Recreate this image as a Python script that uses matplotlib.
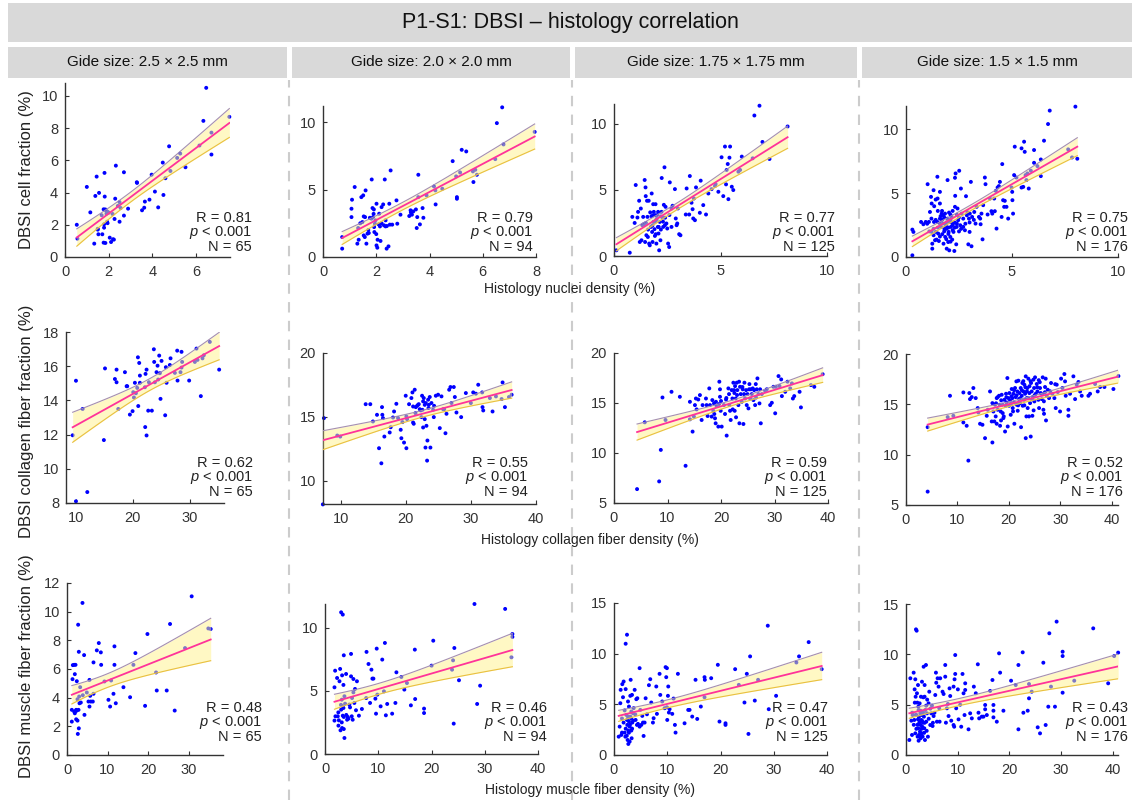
import numpy as np
import matplotlib
matplotlib.use('Agg')
import matplotlib.pyplot as plt

plt.rcParams['font.family'] = ['Liberation Sans', 'DejaVu Sans']
plt.rcParams['mathtext.fontset'] = 'custom'
plt.rcParams['mathtext.it'] = 'Liberation Sans:italic'
plt.rcParams['mathtext.rm'] = 'Liberation Sans'

# ---- data (x = histology %, y = DBSI %) ----
grid_titles = ['Gide size: 2.5 \u00d7 2.5 mm', 'Gide size: 2.0 \u00d7 2.0 mm',
               'Gide size: 1.75 \u00d7 1.75 mm', 'Gide size: 1.5 \u00d7 1.5 mm']
row_xlabels = ['Histology nuclei density (%)', 'Histology collagen fiber density (%)',
               'Histology muscle fiber density (%)']
row_ylabels = ['DBSI cell fraction (%)', 'DBSI collagen fiber fraction (%)',
               'DBSI muscle fiber fraction (%)']
r_values = [['0.81', '0.79', '0.77', '0.75'],
            ['0.62', '0.55', '0.59', '0.52'],
            ['0.48', '0.46', '0.47', '0.43']]
n_values = [65, 94, 125, 176]

cell_25 = [(0.54, 2.0), (0.57, 1.14), (1.0, 4.35), (1.16, 2.77), (1.39, 3.79), (1.45, 4.99), (1.34, 0.83),
           (1.5, 1.7), (1.53, 1.41), (1.56, 3.98), (1.68, 2.59), (1.71, 1.41), (1.81, 5.22), (1.82, 3.75),
           (1.77, 2.96), (1.79, 2.03), (1.79, 1.82), (1.77, 0.89), (1.85, 0.87), (1.9, 2.84), (1.9, 2.69),
           (1.93, 2.19), (1.96, 2.8), (2.05, 1.2), (2.11, 0.93), (2.18, 2.67), (2.24, 1.08), (2.27, 2.36),
           (2.3, 3.62), (2.33, 5.67), (2.42, 3.17), (2.5, 3.4), (2.5, 2.19), (2.55, 3.04), (2.7, 5.26),
           (2.7, 2.57), (2.89, 3.0), (3.29, 4.64), (3.53, 2.9), (3.63, 3.06), (3.66, 3.44), (3.87, 3.56),
           (3.97, 5.11), (4.12, 4.06), (4.27, 3.08), (4.48, 5.86), (4.51, 3.85), (4.6, 4.89), (4.77, 6.87),
           (4.83, 5.34), (5.14, 6.15), (5.28, 6.42), (5.52, 5.57), (6.16, 6.92), (6.34, 8.45), (6.47, 10.5),
           (6.71, 7.72), (6.71, 6.36), (7.53, 8.7), (1.85, 2.95), (2.0, 2.75), (1.95, 2.1), (2.2, 1.1),
           (1.5, 1.75), (3.3, 4.6)]
cell_20 = [(0.72, 1.48), (0.72, 0.62), (1.07, 3.58), (1.09, 4.25), (1.07, 2.96), (1.19, 5.19), (1.32, 2.15),
           (1.29, 0.99), (1.34, 1.28), (1.44, 4.44), (1.48, 2.59), (1.51, 4.57), (1.53, 3.01), (1.53, 1.6),
           (1.57, 1.48), (1.6, 4.94), (1.58, 2.96), (1.63, 0.99), (1.67, 1.73), (1.72, 1.78), (1.76, 2.91),
           (1.83, 5.75), (1.82, 2.84), (1.86, 3.63), (1.88, 2.96), (1.91, 3.53), (1.92, 2.22), (1.93, 1.85),
           (1.95, 2.47), (1.97, 2.72), (2.01, 3.95), (2.01, 0.86), (2.04, 0.69), (2.05, 1.28), (2.09, 2.42),
           (2.11, 3.21), (2.14, 2.27), (2.16, 1.19), (2.2, 3.7), (2.26, 3.9), (2.29, 2.35), (2.32, 5.75),
           (2.35, 2.72), (2.35, 2.27), (2.39, 0.62), (2.46, 0.79), (2.49, 3.95), (2.51, 2.4), (2.54, 6.42),
           (2.76, 4.2), (2.79, 2.47), (2.91, 3.14), (3.24, 3.04), (3.29, 3.46), (3.34, 3.14), (3.39, 3.38),
           (3.49, 3.53), (3.52, 2.15), (3.54, 2.96), (3.58, 6.1), (3.58, 4.44), (3.64, 2.42), (3.74, 3.63),
           (3.77, 2.91), (3.89, 4.57), (4.17, 5.23), (4.22, 4.94), (4.23, 3.9), (4.48, 5.06), (4.87, 7.11),
           (5.0, 5.98), (5.03, 4.44), (5.03, 4.32), (5.15, 6.27), (5.21, 7.95), (5.38, 7.83), (5.63, 6.35),
           (5.65, 5.56), (5.72, 6.47), (5.78, 6.1), (6.47, 7.26), (6.53, 9.93), (6.73, 11.1), (6.78, 8.35),
           (7.95, 9.28), (1.7, 2.0), (2.2, 2.5), (1.9, 3.2), (2.4, 2.3), (3.3, 3.3), (1.4, 2.5), (2.6, 2.4),
           (2.0, 1.7)]
cell_175 = [(0.11, 0.43), (0.74, 0.25), (0.86, 2.96), (0.97, 2.5), (1.02, 5.37), (1.1, 2.91), (1.13, 3.34),
            (1.18, 4.18), (1.21, 1.06), (1.26, 3.59), (1.29, 1.19), (1.33, 2.33), (1.37, 2.96), (1.4, 2.41),
            (1.44, 5.75), (1.48, 5.19), (1.46, 1.06), (1.49, 4.53), (1.52, 1.57), (1.55, 4.18), (1.57, 2.96),
            (1.59, 1.44), (1.63, 4.18), (1.65, 0.94), (1.68, 0.81), (1.73, 2.2), (1.76, 3.01), (1.77, 4.73),
            (1.79, 1.82), (1.81, 1.06), (1.84, 3.09), (1.84, 3.92), (1.85, 2.58), (1.87, 3.34), (1.9, 2.03),
            (1.92, 1.52), (1.93, 3.09), (1.95, 3.92), (1.96, 1.65), (1.96, 2.66), (1.99, 0.94), (2.03, 3.09),
            (2.06, 2.2), (2.07, 3.34), (2.09, 1.7), (2.12, 0.43), (2.15, 2.58), (2.18, 1.19), (2.2, 2.0),
            (2.23, 3.34), (2.24, 5.9), (2.28, 2.91), (2.31, 2.2), (2.34, 3.87), (2.37, 6.71), (2.39, 2.33),
            (2.42, 3.72), (2.46, 2.46), (2.5, 2.08), (2.54, 0.94), (2.59, 0.68), (2.62, 5.57), (2.7, 3.59),
            (2.75, 3.8), (2.86, 5.06), (2.9, 2.84), (2.94, 2.33), (2.97, 2.46), (3.06, 1.65), (3.12, 1.57),
            (3.37, 3.14), (3.41, 5.11), (3.53, 3.14), (3.56, 6.05), (3.64, 4.03), (3.69, 3.54), (3.72, 2.84),
            (3.75, 4.35), (3.8, 2.71), (3.85, 5.19), (4.03, 3.27), (4.07, 5.7), (4.19, 3.85), (4.32, 3.14),
            (4.43, 4.73), (4.58, 5.06), (4.74, 5.29), (4.77, 5.44), (4.9, 4.86), (5.05, 7.47), (5.13, 4.53),
            (5.21, 8.28), (5.26, 5.42), (5.29, 6.51), (5.34, 6.96), (5.37, 4.3), (5.42, 7.44), (5.45, 8.28),
            (5.53, 5.24), (5.6, 4.99), (5.84, 6.38), (5.92, 6.51), (6.0, 7.52), (6.51, 7.39), (6.59, 10.63),
            (6.83, 11.37), (6.97, 8.63), (7.3, 7.34), (8.15, 9.8), (1.5, 2.5), (2.0, 2.8), (2.2, 3.0),
            (1.8, 2.3), (2.4, 2.9), (1.7, 3.3), (2.1, 2.2), (2.6, 3.1), (1.9, 2.6), (2.3, 2.6), (1.6, 2.0),
            (2.7, 2.2), (3.0, 3.6)]
cell_15 = [(0.3, 2.14), (0.35, 1.96), (0.3, 0.13), (0.71, 2.74), (0.82, 2.56), (0.93, 2.74), (1.02, 5.69),
           (1.08, 2.74), (1.13, 3.52), (1.18, 4.7), (1.21, 4.18), (1.21, 1.96), (1.24, 1.04), (1.24, 0.65),
           (1.3, 5.22), (1.32, 2.74), (1.33, 3.97), (1.37, 1.31), (1.4, 4.49), (1.41, 1.96), (1.44, 1.36),
           (1.48, 6.27), (1.48, 2.74), (1.49, 4.57), (1.52, 1.83), (1.55, 1.25), (1.6, 4.18), (1.6, 5.09),
           (1.63, 3.19), (1.65, 2.35), (1.68, 3.39), (1.71, 1.78), (1.73, 2.61), (1.76, 3.26), (1.77, 1.04),
           (1.81, 2.22), (1.84, 3.39), (1.85, 1.57), (1.88, 2.48), (1.92, 0.65), (1.96, 6.01), (1.96, 3.0),
           (1.99, 1.17), (2.01, 1.96), (2.03, 3.47), (2.04, 0.52), (2.07, 2.74), (2.09, 1.57), (2.12, 2.35),
           (2.15, 3.13), (2.18, 1.36), (2.2, 2.61), (2.24, 1.96), (2.28, 0.47), (2.31, 6.19), (2.31, 3.92),
           (2.32, 4.78), (2.34, 6.53), (2.37, 0.99), (2.39, 2.35), (2.43, 3.79), (2.46, 2.87), (2.51, 6.74),
           (2.56, 2.48), (2.59, 5.35), (2.62, 3.39), (2.7, 2.35), (2.78, 2.09), (2.83, 4.75), (2.87, 3.26),
           (2.94, 0.99), (2.97, 3.0), (3.0, 1.96), (3.01, 3.39), (3.06, 5.87), (3.09, 0.84), (3.12, 3.13),
           (3.22, 3.52), (3.28, 2.61), (3.33, 3.92), (3.44, 3.13), (3.52, 2.56), (3.56, 3.39), (3.61, 1.38),
           (3.64, 4.05), (3.72, 6.21), (3.75, 5.69), (3.85, 3.32), (3.96, 4.57), (4.03, 3.58), (4.07, 3.39),
           (4.16, 4.57), (4.19, 3.58), (4.24, 5.17), (4.27, 2.22), (4.32, 5.43), (4.38, 5.54), (4.43, 5.87),
           (4.51, 3.13), (4.54, 7.26), (4.58, 4.44), (4.63, 3.92), (4.66, 4.39), (4.74, 3.92), (4.82, 3.0),
           (4.98, 5.43), (5.01, 5.09), (5.02, 4.44), (5.05, 3.39), (5.1, 6.4), (5.13, 8.62), (5.21, 6.21),
           (5.45, 8.49), (5.45, 5.43), (5.53, 5.48), (5.57, 9.01), (5.6, 8.22), (5.64, 6.4), (5.68, 6.01),
           (5.73, 6.53), (5.79, 5.35), (5.89, 6.74), (6.04, 8.36), (6.04, 7.36), (6.2, 7.1), (6.36, 6.32),
           (6.36, 7.62), (6.51, 9.09), (6.7, 10.39), (6.78, 11.44), (7.65, 8.41), (7.83, 7.78), (7.99, 11.75),
           (8.08, 7.68), (1.5, 2.3), (1.6, 2.6), (1.7, 2.9), (1.8, 2.0), (1.9, 2.7), (2.0, 2.3), (2.1, 2.9),
           (2.2, 2.1), (2.3, 2.7), (1.4, 2.9), (1.3, 2.2), (1.6, 1.6), (1.9, 1.4), (2.0, 1.8), (2.1, 3.3),
           (2.2, 3.6), (2.4, 2.6), (2.5, 3.1), (2.6, 2.2), (2.7, 3.0), (2.8, 2.6), (1.2, 3.0), (1.1, 2.0),
           (1.0, 2.6), (1.7, 3.6), (1.8, 3.1), (2.0, 2.9), (2.3, 2.3), (2.5, 2.0), (2.9, 3.5), (3.2, 2.9),
           (1.5, 3.6), (1.3, 1.7), (2.1, 1.2), (1.9, 2.2), (2.4, 3.3), (3.0, 2.7), (3.5, 3.0), (1.6, 3.0),
           (2.2, 2.5)]

coll_25 = [(9.42, 11.96), (10.0, 15.15), (10.0, 8.1), (11.17, 13.5), (11.99, 8.64), (14.9, 11.68), (15.1, 15.87),
           (16.84, 15.25), (17.13, 15.8), (17.13, 15.06), (17.43, 13.5), (18.6, 15.65), (18.9, 14.83),
           (19.0, 14.83), (19.47, 13.17), (19.94, 13.37), (20.06, 14.48), (20.18, 14.17), (20.35, 15.03),
           (20.53, 14.42), (20.76, 14.73), (20.88, 16.52), (20.94, 13.67), (21.11, 16.19), (21.23, 15.45),
           (21.23, 15.03), (22.11, 14.77), (22.16, 12.44), (22.22, 15.55), (22.4, 15.8), (22.4, 11.95),
           (22.69, 13.4), (22.81, 15.06), (23.33, 13.4), (23.68, 16.99), (23.74, 16.25), (23.86, 15.06),
           (24.15, 15.65), (24.33, 16.03), (24.44, 15.22), (24.62, 16.62), (24.74, 15.59), (24.85, 14.09),
           (25.03, 16.31), (25.67, 13.13), (25.79, 15.94), (25.91, 15.03), (26.49, 16.07), (26.61, 16.46),
           (27.37, 15.61), (27.78, 16.91), (27.84, 15.16), (28.36, 15.65), (28.54, 16.84), (28.65, 16.25),
           (28.54, 15.92), (29.88, 15.16), (30.88, 16.25), (31.17, 17.03), (31.35, 16.37), (31.93, 14.25),
           (32.22, 16.46), (32.46, 16.64), (33.51, 17.42), (35.15, 15.8)]
coll_20 = [(7.28, 8.17), (7.44, 14.91), (9.49, 13.55), (9.95, 13.47), (13.85, 16.0), (14.56, 16.0), (14.97, 14.65),
           (15.59, 15.17), (15.9, 12.56), (16.26, 11.38), (16.36, 15.77), (16.41, 15.17), (16.51, 14.91),
           (16.72, 13.47), (17.54, 13.79), (17.69, 14.2), (18.05, 14.96), (18.21, 15.43), (18.56, 16.03),
           (18.82, 14.91), (19.23, 14.0), (19.33, 13.34), (19.49, 14.6), (19.74, 13.0), (20.0, 16.66),
           (20.1, 15.04), (20.1, 12.56), (20.21, 14.83), (20.51, 16.0), (20.87, 16.48), (21.03, 16.92),
           (21.13, 15.82), (21.13, 14.57), (21.23, 14.47), (21.38, 17.13), (21.54, 15.77), (21.74, 15.87),
           (21.9, 15.95), (22.15, 15.61), (22.31, 15.51), (22.41, 14.99), (22.51, 16.66), (22.56, 15.56),
           (22.67, 14.18), (22.67, 16.22), (22.77, 16.48), (22.92, 15.95), (22.92, 14.83), (23.03, 12.61),
           (23.08, 16.09), (23.18, 14.31), (23.28, 11.59), (23.33, 13.16), (23.44, 16.35), (23.54, 15.95),
           (23.69, 16.56), (23.79, 12.61), (23.95, 16.09), (24.21, 15.56), (24.31, 14.99), (24.36, 15.87),
           (24.62, 16.66), (24.97, 16.74), (25.23, 14.13), (25.49, 16.61), (25.74, 15.61), (25.9, 15.61),
           (26.1, 13.73), (26.26, 15.25), (26.67, 17.13), (26.87, 17.34), (27.03, 16.09), (27.38, 17.34),
           (27.54, 16.56), (27.79, 15.35), (28.51, 14.99), (29.23, 16.87), (30.0, 16.09), (30.36, 16.92),
           (30.77, 16.82), (31.13, 17.52), (31.74, 16.92), (31.79, 15.77), (31.9, 15.51), (32.92, 16.48),
           (33.33, 15.43), (33.85, 16.61), (34.72, 16.4), (34.87, 17.7), (35.23, 15.77), (35.85, 16.56),
           (36.26, 16.74), (22.0, 16.0), (23.5, 15.7), (21.5, 15.3)]
coll_175 = [(4.31, 6.39), (5.75, 13.07), (8.44, 7.16), (8.75, 10.31), (9.06, 15.55), (9.63, 13.3), (10.75, 16.12),
            (12.31, 15.62), (13.38, 8.72), (14.19, 15.12), (14.19, 13.37), (14.69, 12.14), (14.94, 13.64),
            (15.13, 14.79), (15.31, 15.45), (15.44, 14.36), (15.75, 15.35), (16.06, 15.79), (16.38, 13.3),
            (16.56, 14.79), (17.19, 15.45), (17.31, 14.79), (17.5, 13.7), (17.81, 16.46), (17.94, 14.79),
            (18.25, 13.64), (18.38, 15.29), (18.56, 14.22), (18.69, 14.96), (18.75, 13.9), (18.88, 13.47),
            (19.0, 12.97), (19.06, 15.12), (19.19, 14.69), (19.5, 12.64), (19.63, 14.89), (19.69, 17.13),
            (19.81, 16.37), (19.81, 15.62), (19.94, 14.22), (20.13, 12.64), (20.56, 14.79), (20.75, 13.9),
            (20.94, 15.35), (21.06, 11.74), (21.38, 16.46), (21.5, 15.89), (21.56, 14.79), (21.69, 14.22),
            (21.81, 13.3), (22.0, 16.29), (22.13, 15.45), (22.19, 14.36), (22.31, 17.03), (22.44, 16.29),
            (22.56, 14.22), (22.63, 16.69), (22.75, 15.45), (22.81, 13.57), (22.94, 17.03), (23.06, 16.29),
            (23.25, 14.79), (23.38, 17.13), (23.44, 12.97), (23.56, 16.62), (23.69, 15.89), (23.88, 15.12),
            (24.06, 16.37), (24.19, 12.9), (24.31, 15.89), (24.38, 17.03), (24.5, 15.45), (24.69, 16.29),
            (24.81, 14.79), (24.94, 15.89), (25.13, 14.46), (25.25, 16.37), (25.31, 16.89), (25.44, 15.45),
            (25.56, 16.37), (25.75, 15.89), (25.94, 16.46), (26.06, 15.29), (26.19, 16.29), (26.38, 14.79),
            (26.5, 16.89), (26.56, 15.55), (26.69, 16.37), (26.81, 17.46), (27.0, 15.89), (27.19, 14.96),
            (27.31, 16.37), (27.44, 12.97), (27.63, 15.89), (28.25, 16.22), (28.56, 16.37), (29.19, 14.79),
            (29.5, 15.02), (29.81, 16.62), (30.13, 13.97), (30.25, 16.62), (30.75, 17.69), (30.94, 16.69),
            (31.25, 17.36), (31.38, 15.69), (32.0, 16.12), (32.44, 17.13), (32.94, 16.46), (33.25, 16.96),
            (33.44, 15.45), (33.69, 15.69), (34.69, 16.12), (34.94, 14.56), (36.81, 16.79), (37.44, 16.62),
            (39.0, 17.88), (21.0, 15.5), (23.0, 15.8), (24.0, 16.6), (20.0, 15.2), (22.5, 16.0)]
coll_15 = [(4.21, 6.33), (4.21, 12.73), (8.1, 13.73), (8.55, 15.85), (9.2, 13.86), (11.15, 16.18), (11.15, 13.2),
           (11.79, 12.87), (12.12, 9.41), (12.31, 16.12), (12.44, 15.52), (12.77, 15.72), (13.09, 16.62),
           (13.55, 15.62), (13.94, 14.63), (14.07, 14.19), (14.39, 13.07), (14.86, 12.97), (15.36, 11.64),
           (15.69, 13.86), (15.88, 14.46), (16.33, 16.28), (16.66, 13.3), (16.79, 15.12), (16.79, 11.21),
           (16.98, 14.29), (17.17, 13.3), (17.3, 14.96), (17.43, 13.8), (17.63, 13.07), (17.63, 15.62),
           (17.82, 15.72), (17.82, 14.46), (18.08, 15.85), (18.21, 14.96), (18.28, 12.87), (18.41, 14.29),
           (18.47, 13.4), (18.6, 15.95), (18.73, 14.96), (18.79, 14.13), (18.92, 13.63), (19.12, 15.45),
           (19.25, 12.3), (19.38, 14.86), (19.44, 16.05), (19.57, 15.19), (19.7, 17.61), (19.77, 12.8),
           (19.9, 15.62), (20.03, 14.86), (20.09, 16.12), (20.22, 15.39), (20.35, 13.96), (20.41, 15.06),
           (20.54, 16.52), (20.67, 15.62), (20.74, 14.63), (20.87, 16.05), (21.0, 15.19), (21.06, 13.07),
           (21.19, 16.62), (21.32, 15.72), (21.45, 17.28), (21.52, 14.96), (21.65, 16.28), (21.71, 14.36),
           (21.84, 17.35), (21.97, 15.52), (22.04, 16.12), (22.16, 15.12), (22.29, 16.62), (22.36, 12.73),
           (22.49, 15.85), (22.62, 17.12), (22.68, 14.86), (22.81, 16.28), (22.94, 15.45), (23.01, 16.95),
           (23.14, 16.05), (23.27, 11.64), (23.27, 17.78), (23.4, 13.8), (23.46, 15.62), (23.59, 16.62),
           (23.65, 14.63), (23.78, 17.55), (23.91, 13.8), (23.97, 16.12), (24.11, 15.12), (24.24, 11.8),
           (24.3, 17.12), (24.43, 16.28), (24.56, 13.86), (24.63, 15.72), (24.76, 17.45), (24.89, 16.62),
           (24.95, 15.29), (25.08, 17.68), (25.21, 16.05), (25.41, 17.02), (25.54, 16.28), (25.73, 15.45),
           (25.86, 14.63), (26.05, 16.62), (26.18, 16.12), (26.38, 15.52), (26.57, 17.68), (26.7, 14.46),
           (26.82, 14.06), (27.02, 16.72), (27.15, 17.55), (27.21, 13.4), (27.35, 15.85), (27.54, 16.45),
           (27.8, 15.62), (28.19, 17.12), (28.45, 16.05), (28.84, 15.62), (29.1, 14.63), (29.29, 16.95),
           (29.49, 16.22), (29.94, 14.29), (30.14, 17.55), (30.4, 16.62), (30.78, 18.01), (30.91, 17.28),
           (31.04, 15.85), (31.56, 14.46), (31.56, 13.86), (31.88, 16.05), (32.53, 17.78), (32.86, 15.52),
           (33.18, 16.95), (33.51, 17.22), (33.83, 16.28), (34.15, 15.85), (35.45, 15.85), (35.77, 16.05),
           (36.75, 17.02), (37.26, 16.28), (37.72, 16.72), (38.56, 16.72), (40.31, 16.52), (41.28, 17.81),
           (20.5, 15.8), (21.5, 15.9), (22.5, 16.4), (23.5, 16.3), (24.5, 15.5), (25.5, 16.7), (26.5, 16.0),
           (22.0, 15.2), (23.0, 14.9), (24.0, 16.8), (21.0, 16.4), (25.0, 15.9), (26.0, 17.2), (27.0, 16.2),
           (19.5, 15.7), (18.5, 15.4), (22.8, 17.3), (24.8, 14.4), (23.8, 15.6), (21.8, 14.9), (20.8, 14.3),
           (25.8, 17.4), (28.0, 16.3), (29.0, 17.0), (17.5, 15.1), (19.0, 13.8), (22.2, 15.6), (23.2, 16.7),
           (24.2, 17.3), (26.8, 15.3)]

musc_25 = [(1.19, 2.33), (1.19, 3.15), (1.36, 5.29), (1.44, 6.27), (1.77, 3.03), (1.77, 6.29), (1.93, 2.91),
           (1.93, 5.64), (2.01, 3.03), (2.1, 6.29), (2.26, 3.15), (2.26, 2.49), (2.42, 5.15), (2.42, 3.1),
           (2.59, 3.89), (2.59, 2.4), (2.67, 1.47), (2.75, 9.09), (2.84, 3.15), (2.92, 7.2), (2.92, 1.86),
           (3.0, 4.08), (3.08, 3.61), (3.25, 4.73), (3.41, 3.66), (3.82, 10.61), (3.9, 4.17), (4.22, 6.97),
           (4.31, 2.8), (4.89, 4.36), (5.3, 3.73), (5.55, 5.24), (5.55, 3.38), (5.72, 4.13), (5.88, 3.73),
           (6.37, 3.73), (6.54, 6.46), (6.54, 4.27), (7.36, 7.3), (7.85, 7.81), (8.35, 7.16), (8.43, 6.29),
           (9.25, 5.13), (10.23, 3.85), (10.64, 3.38), (10.89, 5.2), (11.47, 4.27), (11.71, 6.29), (11.71, 7.58),
           (12.04, 3.61), (13.93, 4.73), (15.57, 4.03), (16.39, 6.29), (16.88, 7.11), (19.27, 3.43),
           (19.85, 8.44), (21.98, 5.76), (22.15, 4.5), (24.61, 4.5), (25.43, 9.14), (26.58, 3.1), (29.13, 7.46),
           (30.77, 11.07), (34.88, 8.83), (35.46, 8.79)]
musc_20 = [(1.78, 2.65), (1.78, 5.29), (1.9, 6.61), (1.96, 2.99), (2.27, 6.03), (2.4, 2.99), (2.52, 2.25),
           (2.6, 2.67), (2.72, 5.77), (2.84, 6.75), (2.91, 1.88), (3.03, 11.24), (3.03, 3.52), (3.15, 4.31),
           (3.15, 2.51), (3.21, 2.06), (3.21, 6.24), (3.34, 11.06), (3.34, 3.04), (3.34, 3.78), (3.46, 5.48),
           (3.46, 3.65), (3.53, 1.98), (3.53, 7.83), (3.53, 2.94), (3.65, 4.58), (3.65, 1.27), (3.77, 3.99),
           (3.96, 6.35), (4.15, 2.72), (4.27, 2.94), (4.4, 2.8), (4.58, 3.92), (4.7, 3.7), (4.89, 7.94),
           (4.89, 6.16), (5.02, 2.99), (5.08, 4.44), (5.2, 2.72), (5.33, 5.95), (5.33, 4.89), (5.51, 4.05),
           (5.64, 5.16), (5.82, 3.47), (6.0, 5.77), (6.37, 3.04), (6.93, 3.57), (7.74, 4.44), (7.8, 8.1),
           (8.17, 7.14), (8.46, 4.05), (8.72, 6.69), (8.9, 5.98), (9.09, 5.98), (9.46, 4.39), (9.58, 3.2),
           (9.71, 8.36), (9.83, 4.71), (10.45, 3.78), (10.75, 7.49), (11.07, 4.97), (11.25, 8.81), (11.43, 3.07),
           (11.68, 3.97), (12.61, 3.2), (13.22, 4.05), (13.41, 6.48), (14.34, 6.11), (14.9, 5.11), (15.39, 5.63),
           (16.13, 3.86), (16.87, 8.28), (16.93, 4.36), (18.6, 3.6), (18.6, 3.25), (20.02, 7.01), (20.33, 8.99),
           (23.86, 6.69), (24.05, 7.43), (24.17, 2.41), (24.29, 8.41), (25.16, 5.85), (28.07, 11.9),
           (28.57, 3.97), (29.13, 5.42), (33.83, 11.51), (35.0, 7.67), (35.19, 9.52), (35.19, 9.29), (2.5, 3.3),
           (3.0, 3.9), (4.0, 3.1)]
musc_175 = [(0.88, 1.81), (1.06, 2.8), (1.19, 5.11), (1.25, 6.43), (1.38, 1.98), (1.5, 2.21), (1.56, 6.99),
            (1.69, 5.7), (1.81, 7.25), (2.0, 2.21), (2.13, 1.81), (2.19, 10.98), (2.19, 6.5), (2.31, 3.96),
            (2.44, 3.46), (2.44, 11.87), (2.5, 2.97), (2.56, 1.48), (2.63, 5.28), (2.69, 2.41), (2.69, 1.09),
            (2.81, 3.3), (2.81, 4.78), (2.94, 2.8), (2.94, 1.32), (3.06, 3.79), (3.06, 5.84), (3.13, 7.42),
            (3.25, 2.41), (3.25, 4.29), (3.31, 1.65), (3.38, 5.93), (3.44, 3.2), (3.56, 4.12), (3.69, 4.62),
            (3.88, 6.43), (4.06, 3.46), (4.19, 5.51), (4.31, 2.97), (4.38, 5.6), (4.5, 3.07), (4.81, 8.57),
            (4.81, 2.8), (4.94, 4.45), (5.13, 2.97), (5.31, 3.86), (5.44, 3.2), (5.56, 1.88), (5.75, 3.2),
            (5.94, 5.6), (6.19, 4.02), (6.56, 6.89), (6.81, 7.48), (7.0, 5.18), (7.31, 3.2), (7.44, 3.63),
            (7.94, 6.76), (8.06, 4.06), (8.56, 8.01), (8.69, 5.93), (9.06, 5.28), (9.5, 4.62), (9.69, 8.67),
            (9.81, 7.68), (9.94, 8.57), (9.94, 4.71), (10.0, 3.46), (10.13, 5.84), (10.19, 6.76), (10.31, 4.19),
            (10.44, 4.52), (10.94, 4.06), (11.19, 5.57), (11.44, 2.97), (11.56, 2.21), (12.0, 8.01),
            (13.25, 3.13), (13.94, 4.45), (14.19, 4.45), (14.69, 3.79), (15.31, 7.42), (15.63, 3.56),
            (16.31, 4.78), (17.0, 5.7), (17.0, 7.68), (17.06, 7.42), (18.25, 7.58), (19.5, 8.9), (19.81, 3.3),
            (20.94, 3.13), (20.94, 2.97), (22.75, 8.47), (23.44, 6.92), (24.5, 5.18), (24.94, 8.01),
            (25.25, 2.08), (25.56, 9.73), (26.44, 5.37), (27.06, 7.42), (28.88, 12.76), (29.06, 4.52),
            (30.44, 5.84), (34.25, 9.13), (34.75, 9.73), (36.56, 11.14), (39.0, 8.47), (1.8, 3.2), (2.2, 2.6),
            (2.6, 3.8), (3.0, 3.0), (3.4, 2.6), (2.0, 4.4), (2.8, 2.2), (3.6, 3.4), (1.5, 3.6), (2.4, 1.9),
            (4.0, 4.0), (3.2, 3.6)]
musc_15 = [(0.64, 1.49), (0.84, 7.62), (1.03, 3.41), (1.16, 1.99), (1.29, 3.97), (1.48, 8.18), (1.61, 3.48),
           (1.67, 6.52), (1.8, 2.15), (1.8, 7.52), (1.86, 5.79), (1.93, 12.48), (1.99, 3.97), (2.06, 12.35),
           (2.12, 6.13), (2.19, 5.2), (2.25, 1.82), (2.32, 3.54), (2.32, 6.95), (2.38, 2.65), (2.44, 1.42),
           (2.44, 4.47), (2.51, 1.99), (2.57, 3.21), (2.64, 5.13), (2.7, 2.32), (2.77, 4.14), (2.83, 1.66),
           (2.83, 2.98), (2.89, 5.79), (2.96, 3.48), (3.02, 2.15), (3.09, 3.97), (3.09, 7.28), (3.15, 2.81),
           (3.22, 1.82), (3.28, 3.21), (3.34, 5.73), (3.41, 8.77), (3.47, 3.81), (3.54, 2.65), (3.6, 6.95),
           (3.6, 5.79), (3.67, 1.49), (3.73, 4.47), (3.86, 8.94), (3.92, 3.31), (4.05, 4.14), (4.24, 1.82),
           (4.37, 5.13), (4.5, 6.29), (4.69, 2.98), (4.89, 4.14), (5.02, 4.9), (5.14, 2.88), (5.34, 3.87),
           (5.66, 5.96), (5.79, 8.18), (5.85, 7.18), (5.98, 3.31), (6.11, 7.62), (6.3, 6.79), (6.43, 4.64),
           (6.5, 3.31), (6.62, 7.62), (7.07, 6.29), (7.27, 6.06), (7.59, 8.94), (7.59, 7.78), (7.72, 3.21),
           (7.91, 4.64), (8.1, 5.07), (8.23, 3.87), (8.42, 6.62), (8.55, 5.86), (8.75, 3.41), (9.2, 6.79),
           (9.2, 2.98), (9.32, 2.81), (9.39, 7.52), (9.52, 9.93), (9.52, 8.05), (9.71, 4.64), (10.03, 6.52),
           (10.16, 3.54), (10.48, 5.0), (10.68, 2.81), (10.93, 8.05), (11.13, 6.13), (11.32, 3.97),
           (11.45, 7.12), (11.45, 6.46), (12.09, 2.55), (12.41, 4.14), (12.73, 3.64), (13.12, 6.79),
           (13.5, 6.13), (13.89, 9.01), (14.02, 4.2), (14.15, 3.64), (14.66, 3.81), (14.98, 3.81), (15.31, 4.97),
           (15.31, 4.54), (15.63, 3.97), (16.27, 6.36), (16.72, 7.45), (16.91, 4.97), (16.91, 4.4), (16.91, 3.74),
           (17.56, 3.31), (18.0, 10.1), (18.2, 8.18), (18.84, 4.4), (20.32, 7.38), (21.22, 6.95), (21.74, 8.94),
           (21.74, 2.55), (22.57, 10.2), (22.7, 4.2), (23.54, 4.4), (23.79, 7.05), (23.79, 5.63), (24.31, 6.29),
           (25.47, 2.75), (25.92, 2.15), (26.56, 9.17), (27.01, 2.98), (27.52, 4.8), (27.72, 12.09),
           (28.04, 6.79), (28.81, 4.8), (29.13, 13.25), (30.29, 10.26), (30.29, 9.83), (30.29, 6.19),
           (32.54, 7.38), (36.21, 12.58), (39.1, 7.12), (40.26, 9.83), (41.03, 10.17), (1.5, 3.0), (1.9, 4.0),
           (2.2, 3.0), (2.5, 3.8), (2.8, 4.4), (3.0, 2.6), (3.3, 4.2), (3.6, 3.2), (4.0, 2.4), (4.4, 3.6),
           (2.0, 2.6), (2.7, 3.4), (3.1, 3.4), (3.9, 4.9), (4.7, 4.6), (5.2, 3.2), (1.2, 4.2), (2.4, 4.8),
           (3.5, 2.2), (2.9, 1.9), (4.1, 5.5), (5.5, 4.2), (1.7, 5.2)]

panel_data = [[cell_25, cell_20, cell_175, cell_15],
              [coll_25, coll_20, coll_175, coll_15],
              [musc_25, musc_20, musc_175, musc_15]]

# axis limits and ticks per panel
xlims = [[(0, 7.56), (0, 8), (0, 10), (0, 10)],
         [(8.25, 36), (7.3, 40), (0, 40), (0, 41.2)],
         [(0, 38.5), (0, 40), (0, 40), (0, 41)]]
ylims = [[(0, 10.8), (0, 11.2), (0, 11.5), (0, 11.8)],
         [(8, 18), (8.2, 20), (5, 20), (5, 20)],
         [(0, 12), (0, 11.9), (0, 15), (0, 15)]]
xticks = [[[0, 2, 4, 6], [0, 2, 4, 6, 8], [0, 5, 10], [0, 5, 10]],
          [[10, 20, 30], [10, 20, 30, 40], [0, 10, 20, 30, 40], [0, 10, 20, 30, 40]],
          [[0, 10, 20, 30], [0, 10, 20, 30, 40], [0, 10, 20, 30, 40], [0, 10, 20, 30, 40]]]
yticks = [[[0, 2, 4, 6, 8, 10], [0, 5, 10], [0, 5, 10], [0, 5, 10]],
          [[8, 10, 12, 14, 16, 18], [10, 15, 20], [5, 10, 15, 20], [5, 10, 15, 20]],
          [[0, 2, 4, 6, 8, 10, 12], [0, 5, 10], [0, 5, 10, 15], [0, 5, 10, 15]]]

# pixel boxes (left, right, top, bottom) on a 1136 x 800 canvas
W, H = 1136, 800
boxes = [[(65, 230, 83, 257), (323, 536, 106, 257), (614, 827, 104, 256), (906, 1118, 106, 257)],
         [(66, 224, 332, 503), (323, 536, 353, 504), (614, 828, 353, 503), (906, 1118, 354, 505)],
         [(67, 223, 583, 755), (325, 538, 604, 754), (614, 827, 603, 755), (906, 1118, 604, 755)]]
stat_right = [[252, 533, 835, 1128], [253, 528, 827, 1123], [262, 547, 828, 1128]]
stat_top = [218, 463, 708]

axis_col = '#333333'

fig = plt.figure(figsize=(W / 100, H / 100), dpi=100)


def px(x, y):
    return x / W, 1 - y / H


def add_box(x0, x1, y0, y1, text, size):
    fig.patches.append(plt.Rectangle(px(x0, y1), (x1 - x0) / W, (y1 - y0) / H,
                                     transform=fig.transFigure, facecolor='#d9d9d9',
                                     edgecolor='none', zorder=0))
    fig.text(*px((x0 + x1) / 2, (y0 + y1) / 2), text, ha='center', va='center',
             fontsize=size, color='#111111')


add_box(8, 1132, 3, 42, 'P1-S1: DBSI \u2013 histology correlation', 15.5)
head_x = [(8, 287), (292, 570), (575, 857), (862, 1132)]
for (hx0, hx1), t in zip(head_x, grid_titles):
    add_box(hx0, hx1, 47, 78, t, 11)

for sx in [289, 572, 859]:
    fig.add_artist(plt.Line2D([sx / W, sx / W], [0, 1 - 80 / H], transform=fig.transFigure,
                              color='#cccccc', lw=1.5, ls=(0, (5, 4))))

t_crit = 1.98

for r in range(3):
    for c in range(4):
        x0, x1, y0, y1 = boxes[r][c]
        ax = fig.add_axes([x0 / W, 1 - y1 / H, (x1 - x0) / W, (y1 - y0) / H])
        pts = np.array(panel_data[r][c])
        xs, ys = pts[:, 0], pts[:, 1]

        ax.scatter(xs, ys, s=8, color='#0000ff', edgecolors='none', zorder=2, clip_on=False)

        # linear fit with 95% confidence band of the mean
        b, a = np.polyfit(xs, ys, 1)
        n = len(xs)
        resid = ys - (a + b * xs)
        s = np.sqrt(np.sum(resid ** 2) / (n - 2))
        xx = np.linspace(xs.min(), xs.max(), 100)
        se = s * np.sqrt(1 / n + (xx - xs.mean()) ** 2 / np.sum((xs - xs.mean()) ** 2))
        fit = a + b * xx
        ax.fill_between(xx, fit - t_crit * se, fit + t_crit * se, color='#fff38a',
                        alpha=0.5, lw=0, zorder=3)
        ax.plot(xx, fit + t_crit * se, color='#a58fb0', lw=0.8, zorder=4)
        ax.plot(xx, fit - t_crit * se, color='#e9c040', lw=0.8, zorder=4)
        ax.plot(xx, fit, color='#ff3399', lw=1.3, zorder=5)

        ax.set_xlim(xlims[r][c])
        ax.set_ylim(ylims[r][c])
        ax.set_xticks(xticks[r][c])
        ax.set_yticks(yticks[r][c])
        for side in ['top', 'right']:
            ax.spines[side].set_visible(False)
        for side in ['left', 'bottom']:
            ax.spines[side].set_color(axis_col)
            ax.spines[side].set_linewidth(1.0)
        ax.tick_params(direction='in', length=3, width=0.8, color=axis_col,
                       labelsize=10.5, labelcolor='#333333')
        ax.tick_params(axis='x', pad=6)
        ax.tick_params(axis='y', pad=5)
        ax.patch.set_alpha(0)

        # statistics text
        xr = stat_right[r][c]
        yt = stat_top[r]
        lines = ['R = ' + r_values[r][c], '$p$ < 0.001', 'N = %d' % n_values[c]]
        for k, line in enumerate(lines):
            fig.text(*px(xr, yt + k * 14.5), line, ha='right', va='center',
                     fontsize=10.5, color='#222222')

    fig.text(*px(27, [170, 421, 666][r]), row_ylabels[r], rotation=90, ha='center',
             va='center', fontsize=12, color='#222222')

xlab_pos = [(570, 289), (590, 540), (590, 790)]
for r in range(3):
    fig.text(*px(*xlab_pos[r]), row_xlabels[r], ha='center', va='center',
             fontsize=10, color='#222222')

fig.savefig('out.png', dpi=100)
